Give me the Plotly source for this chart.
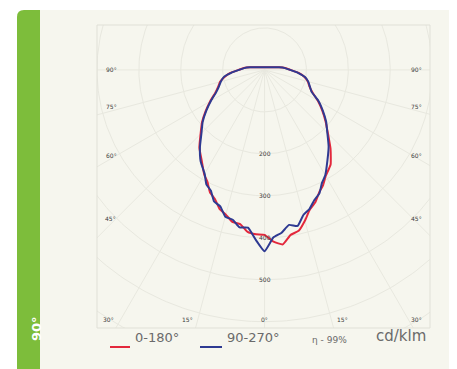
import numpy as np
import plotly.graph_objects as go

# ---------------- data (cd/klm) ----------------
ANGLES = [-100, -95, -90, -85, -80, -75, -70, -65, -60, -55, -50, -45, -40, -35, -30, -27, -24,
          -21, -18, -15, -12, -9, -6, -3, 0, 3, 6, 9, 12, 15, 18, 21, 24, 27, 30, 35, 40, 45,
          50, 55, 60, 65, 70, 75, 80, 85, 90, 95, 100]
RED_0_180 = [36, 50, 62, 82, 97, 110, 118, 130, 150, 172, 195, 216, 242, 262, 288, 300, 320,
             330, 348, 357, 370, 372, 388, 392, 393, 410, 418, 398, 392, 372, 350, 338, 320, 308,
             292, 275, 245, 214, 190, 168, 147, 126, 114, 107, 97, 82, 62, 50, 36]
BLUE_90_270 = [35, 49, 61, 80, 99, 108, 116, 128, 148, 170, 193, 213, 240, 266, 286, 306, 315,
               336, 342, 362, 365, 380, 378, 405, 432, 400, 390, 374, 380, 358, 348, 332, 322, 302,
               290, 262, 238, 212, 192, 170, 149, 124, 115, 108, 98, 80, 61, 49, 35]
SERIES_NAMES = ["0-180°", "90-270°"]
ANGLE_TICKS = [-90, -75, -60, -45, -30, -15, 0, 15, 30, 45, 60, 75, 90]
ANGLE_LABELS = ["90°", "75°", "60°", "45°", "30°", "15°", "0°", "15°", "30°", "45°", "60°", "75°", "90°"]
RADIAL_TICKS = [100, 200, 300, 400, 500, 600, 700, 800]
RADIAL_LABELS = ["", "200", "300", "400", "500", "", "", ""]
EFFICIENCY_TEXT = "η - 99%"
UNIT_TEXT = "cd/klm"
PANEL_TITLE = "90°"

# ---------------- styles / positions ----------------
OFF = 8                                   # page body margin of the browser
W, H = 457, 369                           # target picture size
PL, PR, PT, PB = 97, 430, 25, 328         # plot area in picture pixels
XR = [-400, 395]
YR = [-615, 107]
# angle label anchor positions (data units), one per ANGLE_TICKS entry
LABEL_POS = [(-365, 0), (-365, -88), (-365, -205), (-368, -353), (-372, -594), (-185, -594),
             (0, -594), (185, -594), (363, -594), (363, -353), (363, -205), (363, -88), (363, 0)]
CREAM = "#f6f6ee"
GRID = "#e8e8df"
RED = "#e3283c"
BLUE = "#2e3a92"
GREEN = "#7dbd3b"
TXT = "#6a6a6a"
LBL = "#3c3c3c"


def px(x):
    return (x - PL) / (PR - PL)


def py(y):
    return (PB - y) / (PB - PT)


def to_xy(ang, r):
    a = np.radians(np.asarray(ang, dtype=float))
    r = np.asarray(r, dtype=float)
    return r * np.sin(a), -r * np.cos(a)


fig = go.Figure()

# grid circles
t = np.linspace(0, 360, 361)
for rv in RADIAL_TICKS:
    gx, gy = to_xy(t, np.full_like(t, rv))
    fig.add_trace(go.Scatter(x=gx, y=gy, mode="lines", line=dict(color=GRID, width=1),
                             hoverinfo="skip", showlegend=False))
# radial lines
for a in ANGLE_TICKS:
    gx, gy = to_xy([a, a], [0, 2000])
    fig.add_trace(go.Scatter(x=gx, y=gy, mode="lines", line=dict(color=GRID, width=1),
                             hoverinfo="skip", showlegend=False))

# radial value labels
for rv, lab in zip(RADIAL_TICKS, RADIAL_LABELS):
    if lab:
        fig.add_annotation(x=0, y=-rv, xref="x", yref="y", text=lab, showarrow=False,
                           font=dict(size=6, color=LBL, family="DejaVu Sans"))

# angle labels
for (lx, ly), lab in zip(LABEL_POS, ANGLE_LABELS):
    fig.add_annotation(x=lx, y=ly, xref="x", yref="y", text=lab, showarrow=False,
                       font=dict(size=6, color=LBL, family="DejaVu Sans"))

# data curves (closed across the top)
for name, vals, col in [(SERIES_NAMES[0], RED_0_180, RED), (SERIES_NAMES[1], BLUE_90_270, BLUE)]:
    cx, cy = to_xy(ANGLES + [ANGLES[0]], vals + [vals[0]])
    fig.add_trace(go.Scatter(x=cx, y=cy, mode="lines", name=name,
                             line=dict(color=col, width=2, shape="spline", smoothing=0.4),
                             showlegend=False))

shapes = [
    # cream panel
    dict(type="rect", xref="paper", yref="paper", x0=px(40), x1=px(457), y0=py(369), y1=py(10),
         fillcolor=CREAM, line=dict(width=0), layer="below"),
    # green side bar with rounded top-left corner
    dict(type="path", xref="paper", yref="paper",
         path=(f"M {px(17)},{py(369)} L {px(17)},{py(17)} Q {px(17)},{py(10)} {px(24)},{py(10)} "
               f"L {px(40)},{py(10)} L {px(40)},{py(369)} Z"),
         fillcolor=GREEN, line=dict(width=0), layer="below"),
    # frame
    dict(type="rect", xref="paper", yref="paper", x0=0, x1=1, y0=0, y1=1,
         line=dict(color="#e0e0d7", width=1), fillcolor="rgba(0,0,0,0)"),
    # legend line samples
    dict(type="line", xref="paper", yref="paper", x0=px(110), x1=px(130), y0=py(347), y1=py(347),
         line=dict(color=RED, width=2)),
    dict(type="line", xref="paper", yref="paper", x0=px(200), x1=px(222), y0=py(347), y1=py(347),
         line=dict(color=BLUE, width=2)),
]

legend_font = dict(size=13, color=TXT, family="DejaVu Sans")
fig.add_annotation(x=px(133), y=py(347), xref="paper", yref="paper", text=SERIES_NAMES[0],
                   showarrow=False, xanchor="left", font=legend_font)
fig.add_annotation(x=px(225), y=py(347), xref="paper", yref="paper", text=SERIES_NAMES[1],
                   showarrow=False, xanchor="left", font=legend_font)
fig.add_annotation(x=px(310), y=py(347), xref="paper", yref="paper", text=EFFICIENCY_TEXT,
                   showarrow=False, xanchor="left", font=dict(size=9, color=TXT, family="DejaVu Sans"))
fig.add_annotation(x=px(374), y=py(347), xref="paper", yref="paper", text=UNIT_TEXT,
                   showarrow=False, xanchor="left", font=dict(size=15, color=TXT, family="DejaVu Sans"))
fig.add_annotation(x=px(27), y=py(343), xref="paper", yref="paper", text=f"<b>{PANEL_TITLE}</b>",
                   showarrow=False, textangle=-90, font=dict(size=13, color="white", family="DejaVu Sans"))

fig.update_layout(
    width=W - OFF, height=H - OFF,
    margin=dict(l=PL - OFF, r=W - PR, t=PT - OFF, b=H - PB, pad=0),
    paper_bgcolor="white", plot_bgcolor=CREAM,
    xaxis=dict(range=XR, visible=False, fixedrange=True),
    yaxis=dict(range=YR, visible=False, fixedrange=True),
    shapes=shapes, showlegend=False,
)

fig.write_html("out.html", config={"displayModeBar": False})
